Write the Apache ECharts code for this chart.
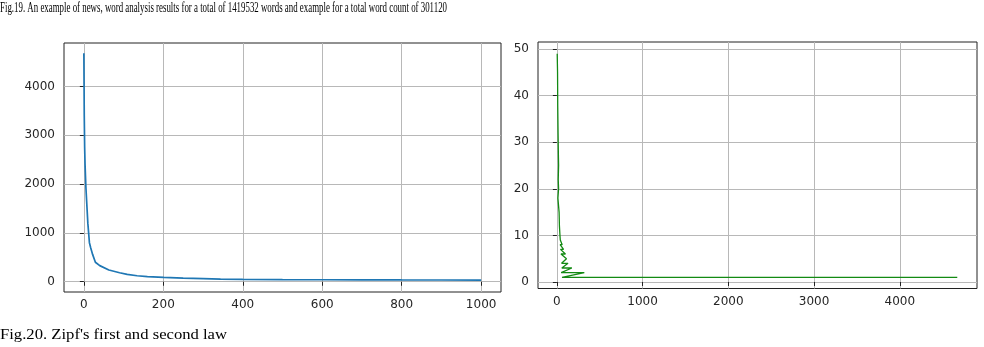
<!DOCTYPE html>
<html>
<head>
<meta charset="utf-8">
<script src="https://cdn.jsdelivr.net/npm/echarts@6/dist/echarts.min.js"></script>
<style>
html,body{margin:0;padding:0;background:#fff;}
#c{width:984px;height:347px;}
</style>
</head>
<body>
<div id="c"></div>
<script>
// ---- data ----
const captionTop = "Fig.19. An example of news, word analysis results for a total of 1419532 words and example for a total word count of 301120";
const captionBottom = "Fig.20. Zipf's first and second law";

// Zipf's first law: rank vs frequency
const rankX = [0, 1, 2, 3, 5, 7, 10, 14, 17, 22, 29, 40, 63, 90, 109, 134, 160, 201, 250, 300, 344, 400, 500, 600, 700, 800, 900, 1000];
const freqY = [4680, 3400, 2750, 2400, 1950, 1650, 1200, 800, 700, 560, 400, 330, 240, 185, 150, 123, 105, 88, 75, 64, 52, 48, 44, 41, 39, 37, 36, 35];

// Zipf's second law: frequency vs number of words
const freqX2 = [4, 8, 10, 14, 18, 20, 16, 20, 12, 22, 26, 30, 36, 40, 62, 38, 78, 42, 100, 48, 112, 55, 130, 58, 175, 50, 320, 60, 4670];
const countY2 = [49, 45, 38, 32, 27, 25, 22, 20, 18, 18, 15, 12, 10, 9, 8, 8, 7, 7, 6, 6, 5, 4, 4, 3, 3, 2, 2, 1, 1];

const xTicks1 = [0, 200, 400, 600, 800, 1000];
const yTicks1 = [0, 1000, 2000, 3000, 4000];
const xTicks2 = [0, 1000, 2000, 3000, 4000];
const yTicks2 = [0, 10, 20, 30, 40, 50];

const pairs = (xs, ys) => xs.map((x, i) => [x, ys[i]]);

function measure(text, font) {
  const ctx = document.createElement('canvas').getContext('2d');
  ctx.font = font;
  return ctx.measureText(text).width;
}
const topFont = "14px 'Liberation Serif'";
const botFont = "15px 'Liberation Serif'";
const topScale = 447 / measure(captionTop, topFont);
const botScale = 227 / measure(captionBottom, botFont);

const tickLabel = {fontSize: 12, color: '#262626', fontFamily: 'DejaVu Sans', formatter: v => String(v)};
const splitLine = {show: true, lineStyle: {color: '#b8b8b8', width: 1}};
const tick = {show: true, length: 4, lineStyle: {color: '#222', width: 1}};

function xAx(idx, min, max, ticks) {
  return {
    type: 'value', gridIndex: idx, min: min, max: max,
    axisLine: {show: false},
    axisTick: Object.assign({customValues: ticks}, tick),
    axisLabel: Object.assign({customValues: ticks, margin: 7}, tickLabel),
    splitLine: splitLine
  };
}
function yAx(idx, min, max, ticks) {
  return {
    type: 'value', gridIndex: idx, min: min, max: max,
    axisLine: {show: false},
    axisTick: Object.assign({customValues: ticks}, tick),
    axisLabel: Object.assign({customValues: ticks, margin: 9}, tickLabel),
    splitLine: splitLine
  };
}

const chart = echarts.init(document.getElementById('c'), null, {renderer: 'canvas'});
chart.setOption({
  animation: false,
  backgroundColor: '#fff',
  grid: [
    {left: 64, top: 43, width: 437, height: 249, show: true, borderColor: '#222', borderWidth: 1, backgroundColor: '#fff'},
    {left: 538, top: 42, width: 439, height: 246.5, show: true, borderColor: '#222', borderWidth: 1, backgroundColor: '#fff'}
  ],
  xAxis: [xAx(0, -50, 1050, xTicks1), xAx(1, -220, 4900, xTicks2)],
  yAxis: [yAx(0, -210, 4890, yTicks1), yAx(1, -1.4, 51.5, yTicks2)],
  series: [
    {type: 'line', xAxisIndex: 0, yAxisIndex: 0, data: pairs(rankX, freqY), showSymbol: false, symbol: 'none',
     lineStyle: {color: '#1f77b4', width: 1.7}, z: 3},
    {type: 'line', xAxisIndex: 1, yAxisIndex: 1, data: pairs(freqX2, countY2), showSymbol: false, symbol: 'none',
     lineStyle: {color: '#138a13', width: 1.3}, z: 3}
  ],
  graphic: [
    {type: 'text', x: 0, y: 8, scaleX: topScale,
     style: {text: captionTop, font: topFont, fill: '#000', verticalAlign: 'middle', align: 'left'}},
    {type: 'text', x: 0, y: 335.5, scaleX: botScale,
     style: {text: captionBottom, font: botFont, fill: '#000', verticalAlign: 'middle', align: 'left'}}
  ]
});
</script>
</body>
</html>
